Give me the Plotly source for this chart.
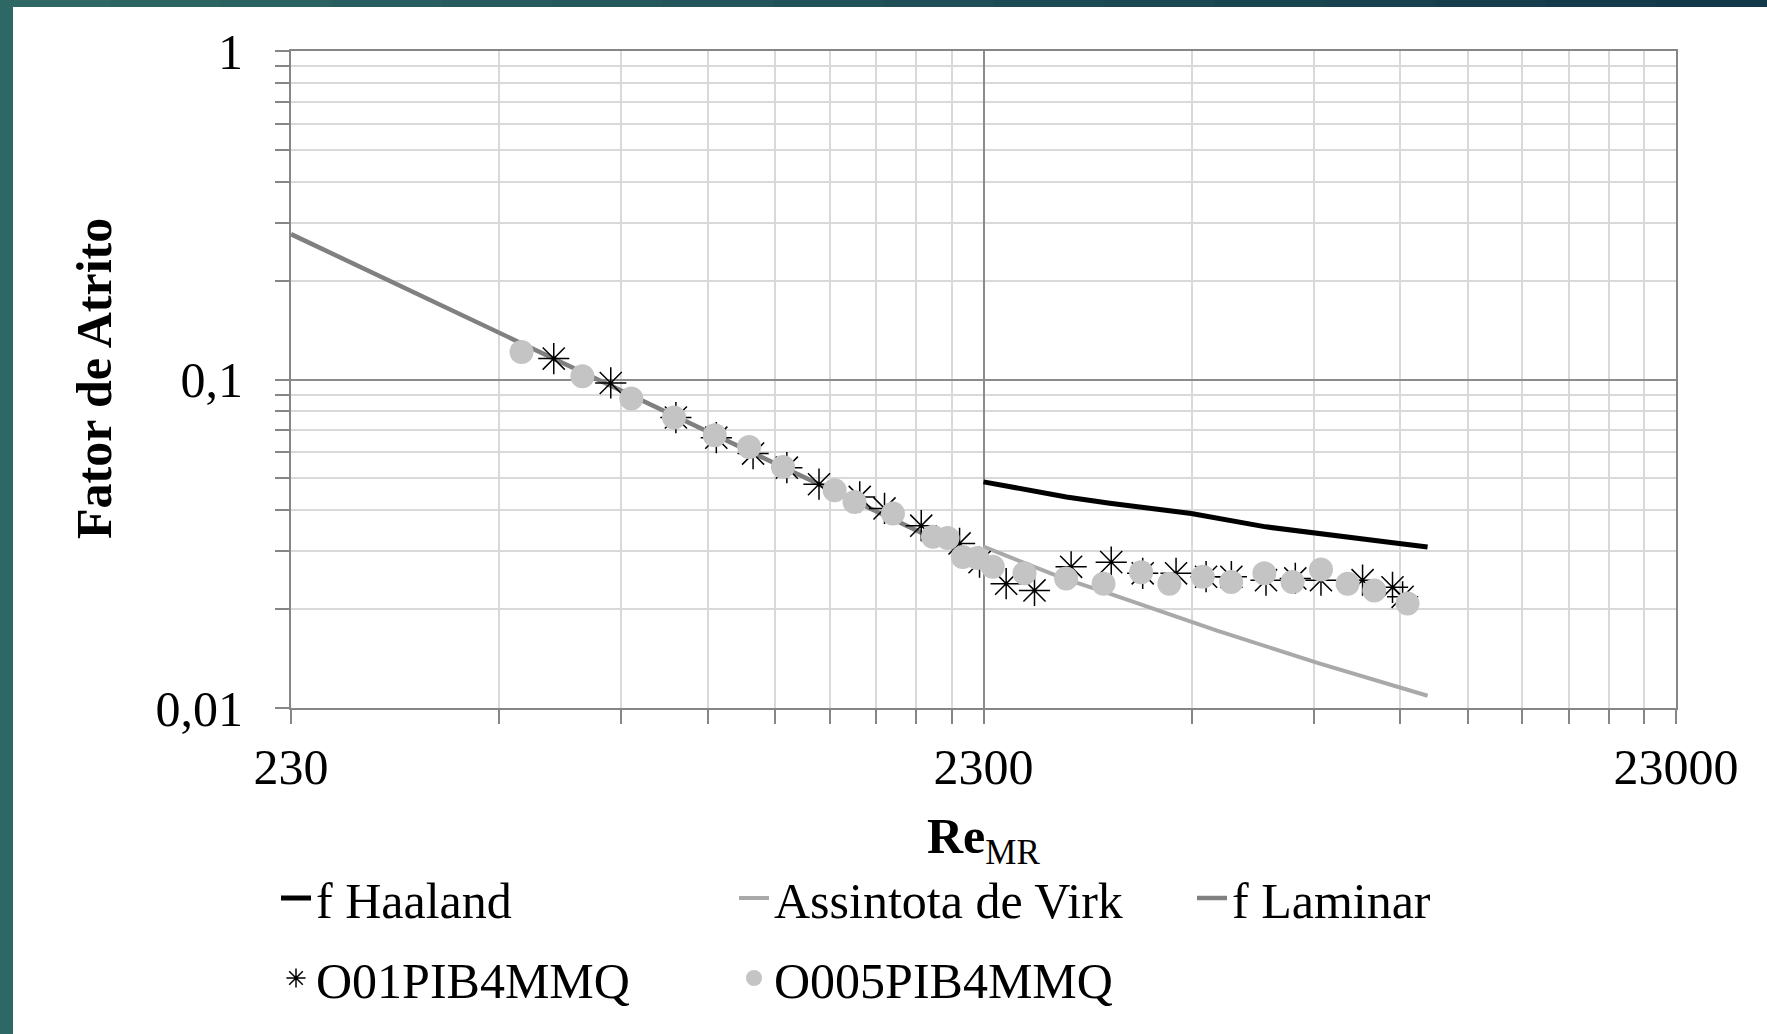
import plotly.graph_objects as go

# ---------------- data ----------------
re_haaland = [2300, 3030, 3500, 4590, 5880, 7920, 9160, 10070]
f_haaland = [0.0488, 0.0439, 0.0420, 0.0391, 0.0356, 0.0331, 0.0317, 0.0309]

re_virk = [2300, 3000, 3430, 5000, 7000, 10070]
f_virk = [0.0310, 0.0248, 0.0226, 0.0172, 0.0137, 0.0109]

re_laminar = [230, 2300]
f_laminar = [0.277, 0.0278]

re_o01 = [551, 666, 827, 946, 1069, 1196, 1331, 1524, 1655, 1870, 2124, 2270,
          2480, 2725, 3078, 3517, 3905, 4363, 4821, 5244, 5884, 6486, 7064,
          8112, 8961, 9267]
f_o01 = [0.1158, 0.0976, 0.0766, 0.0665, 0.0595, 0.0539, 0.0480, 0.0439,
         0.0405, 0.0359, 0.0317, 0.0278, 0.0239, 0.0228, 0.0269, 0.0278,
         0.0257, 0.0257, 0.0251, 0.0251, 0.0245, 0.0248, 0.0245, 0.0245,
         0.0233, 0.0218]

re_o005 = [495, 606, 713, 822, 941, 1055, 1181, 1402, 1498, 1702, 1944, 2041,
           2147, 2254, 2372, 2636, 3027, 3428, 3884, 4267, 4768, 5240, 5852,
           6427, 7064, 7719, 8434, 9421]
f_o005 = [0.1213, 0.1023, 0.0875, 0.0766, 0.0676, 0.0623, 0.0542, 0.0460,
          0.0424, 0.0391, 0.0332, 0.0329, 0.0288, 0.0286, 0.0269, 0.0257,
          0.0248, 0.0239, 0.0259, 0.0239, 0.0251, 0.0242, 0.0257, 0.0242,
          0.0264, 0.0239, 0.0228, 0.0208]

x_major = [230, 2300, 23000]
x_major_text = ["230", "2300", "23000"]
x_minor = [230 * k for k in range(2, 10)] + [2300 * k for k in range(2, 10)]
y_major = [0.01, 0.1, 1]
y_major_text = ["0,01", "0,1", "1"]
y_minor = [k / 100 for k in range(2, 10)] + [k / 10 for k in range(2, 10)]

# ---------------- figure ----------------
W, H = 1767, 1034
L, R, T, B = 291, 91, 51, 326
PW, PH = W - L - R, H - T - B

FONT = "Liberation Serif"
AXIS_COL = "#868686"
MAJOR_GRID = "#8c8c8c"
MINOR_GRID = "#d9d9d9"


def px_x(px):
    return (px - L) / PW


def px_y(py):
    return (H - B - py) / PH


fig = go.Figure()
fig.add_trace(go.Scatter(x=re_haaland, y=f_haaland, mode="lines", name="f Haaland",
                         line=dict(color="black", width=5), legend="legend"))
fig.add_trace(go.Scatter(x=re_virk, y=f_virk, mode="lines", name="Assintota de Virk",
                         line=dict(color="#a9a9a9", width=4), legend="legend"))
fig.add_trace(go.Scatter(x=re_laminar, y=f_laminar, mode="lines", name="f Laminar",
                         line=dict(color="#808080", width=4.5), legend="legend"))
fig.add_trace(go.Scatter(x=re_o01, y=f_o01, mode="markers", name="O01PIB4MMQ",
                         marker=dict(symbol="asterisk-open", size=26, color="black",
                                     line=dict(color="black", width=1.5)),
                         legend="legend2"))
fig.add_trace(go.Scatter(x=re_o005, y=f_o005, mode="markers", name="O005PIB4MMQ",
                         marker=dict(symbol="circle", size=24, color="#c4c4c4",
                                     line=dict(width=0)),
                         legend="legend2"))

axis_common = dict(
    type="log",
    showline=True, linecolor=AXIS_COL, linewidth=2, mirror=True,
    ticks="outside", ticklen=14, tickwidth=1.5, tickcolor=AXIS_COL,
    showgrid=True, gridcolor=MAJOR_GRID, gridwidth=1.5,
    zeroline=False,
    tickfont=dict(family=FONT, size=50, color="black"),
)

fig.update_xaxes(
    **axis_common,
    range=[2.361728, 4.361728],
    tickmode="array", tickvals=x_major, ticktext=x_major_text,
    ticklabelstandoff=0,
    minor=dict(tickmode="array", tickvals=x_minor, ticks="outside", ticklen=14,
               tickwidth=1.5, tickcolor=AXIS_COL, showgrid=True,
               gridcolor=MINOR_GRID, gridwidth=1.5),
)
fig.update_yaxes(
    **axis_common,
    range=[-2, 0],
    tickmode="array", tickvals=y_major, ticktext=y_major_text,
    ticklabelstandoff=22,
    minor=dict(tickmode="array", tickvals=y_minor, ticks="outside", ticklen=14,
               tickwidth=1.5, tickcolor=AXIS_COL, showgrid=True,
               gridcolor=MINOR_GRID, gridwidth=1.5),
)

# slide frame (teal strips on left and top)
shapes = [dict(type="rect", xref="paper", yref="paper",
               x0=px_x(0), x1=px_x(13), y0=px_y(H), y1=px_y(0),
               fillcolor="#2e6864", line=dict(width=0), layer="below")]
n = 16
c0 = (46, 104, 100)
c1 = (18, 56, 74)
for i in range(n):
    t = i / (n - 1)
    col = "rgb(%d,%d,%d)" % tuple(round(a + (b - a) * t) for a, b in zip(c0, c1))
    shapes.append(dict(type="rect", xref="paper", yref="paper",
                       x0=px_x(W * i / n), x1=px_x(W * (i + 1) / n + 1),
                       y0=px_y(7), y1=px_y(0),
                       fillcolor=col, line=dict(width=0), layer="below"))

annotations = [
    dict(text="<b>Fator de Atrito</b>", xref="paper", yref="paper",
         x=px_x(94), y=px_y(379), textangle=-90, showarrow=False,
         xanchor="center", yanchor="middle",
         font=dict(family=FONT, size=50, color="black")),
    dict(text="<b>Re</b><sub>MR</sub>", xref="paper", yref="paper",
         x=px_x(983), y=px_y(840), showarrow=False,
         xanchor="center", yanchor="middle",
         font=dict(family=FONT, size=50, color="black")),
]

legend_common = dict(
    orientation="h", xanchor="left", yanchor="middle",
    entrywidth=413, entrywidthmode="pixels",
    font=dict(family=FONT, size=50, color="black"),
    bgcolor="rgba(0,0,0,0)", borderwidth=0, itemclick=False,
)

fig.update_layout(
    width=W, height=H,
    margin=dict(l=L, r=R, t=T, b=B, pad=0),
    paper_bgcolor="white", plot_bgcolor="white",
    showlegend=True,
    legend=dict(**legend_common, x=px_x(276), y=px_y(898)),
    legend2=dict(**legend_common, x=px_x(276), y=px_y(978)),
    shapes=shapes,
    annotations=annotations,
    font=dict(family=FONT, size=50, color="black"),
)

fig.write_html("out.html")
